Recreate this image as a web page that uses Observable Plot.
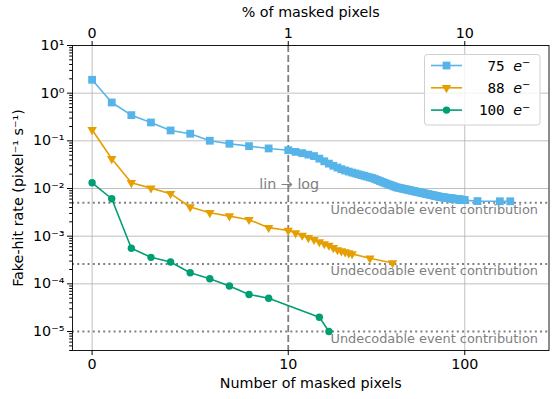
<!DOCTYPE html>
<html><head><meta charset="utf-8">
<script src="https://cdn.jsdelivr.net/npm/d3@7"></script>
<script src="https://cdn.jsdelivr.net/npm/@observablehq/plot@0.6"></script>
<style>
body{margin:0;background:#fff;}
#wrap{position:relative;width:556px;height:399px;}
</style></head><body><div id="wrap"></div>
<script>
// ---- data ----
const seriesNames = ["75", "88", "100"];
const seriesColors = ["#56B4E9", "#E69F00", "#009E73"];

const blueN = [0,1,2,3,4,5,6,7,8,9,10,11,12,13,14,15,16,17,18,19,20,21,22,23,24,25,26,27,28,29,30,
  31,32,33,34,35,36,37,38,39,40,41,42,43,44,45,46,47,48,49,50,51,52,53,54,55,56,57,58,59,60,
  61,62,63,64,65,66,67,68,69,70,71,72,73,74,75,76,77,78,79,80,81,82,83,84,85,86,87,88,89,90,
  91,92,93,94,95,96,97,98,99,100,118,158,181];
const blueRate = [1.91,0.638,0.346,0.243,0.165,0.141,0.1005,0.0869,0.0774,0.0693,0.0635,
  0.0587,0.0552,0.0513,0.0479,0.0423,0.0372,0.0333,0.0300,0.0275,0.0254,
  0.0239,0.0227,0.0216,0.0207,0.0199,0.0191,0.0184,0.0177,0.0171,0.0166,
  0.0158,0.0151,0.0144,0.0138,0.0132,0.0127,0.0122,0.0118,0.0114,0.0110,
  0.0106,0.0104,0.0102,0.0100,0.00984,0.00966,0.00951,0.00933,0.00918,0.00902,
  0.00887,0.00873,0.00861,0.00847,0.00836,0.00822,0.00811,0.00800,0.00789,0.00778,
  0.00767,0.00759,0.00748,0.00738,0.00729,0.00721,0.00711,0.00703,0.00695,0.00687,
  0.00679,0.00671,0.00664,0.00658,0.00655,0.00650,0.00646,0.00641,0.00638,0.00634,
  0.00630,0.00627,0.00622,0.00619,0.00615,0.00612,0.00608,0.00605,0.00601,0.00598,
  0.00596,0.00592,0.00589,0.00586,0.00582,0.00581,0.00578,0.00575,0.00573,0.00569,
  0.00545,0.00540,0.00540];

const orangeN = [0,1,2,3,4,5,6,7,8,9,10,11,12,13,14,15,16,17,18,19,20,21,22,23,29,39];
const orangeRate = [0.171,0.042,0.0132,0.0102,0.0078,0.0041,0.0031,0.00264,0.00222,0.00151,
  0.00132,0.00117,0.00104,0.00093,0.000845,0.00076,0.00069,0.00064,0.00057,0.000516,
  0.000487,0.000464,0.000442,0.000426,0.000343,0.000275];

const greenN = [0,1,2,3,4,5,6,7,8,9,15,17];
const greenRate = [0.0132,0.0061,0.00056,0.00036,0.000287,0.000171,0.000128,0.00009,0.00006,0.00005,0.00002,0.00001];

const undecodable = [5.0e-3, 2.6e-4, 1.0e-5];
const xTicks = [0, 10, 100];
const xTickLabels = ["0", "10", "100"];
const topTickLabels = ["0", "1", "10"];
const yTicks = [1e1, 1e0, 1e-1, 1e-2, 1e-3, 1e-4, 1e-5];
const yGrid = [1e0, 1e-1, 1e-2, 1e-3, 1e-4];
const xlim = [-1, 300];
const ylim = [4e-6, 10];
const linthresh = 10;

// matplotlib-style symlog (linthresh=10, linscale=1)
const LS = 1 / (1 - 1 / 10);
function sym(n) {
  const a = Math.abs(n);
  return a <= linthresh ? n / linthresh * LS : Math.sign(n) * (LS + Math.log10(a / linthresh));
}
const rows = (ns, rs) => ns.map((n, i) => ({x: sym(n), y: rs[i]}));
const blue = rows(blueN, blueRate), orange = rows(orangeN, orangeRate), green = rows(greenN, greenRate);

const supMap = {"-":"⁻","0":"⁰","1":"¹","2":"²","3":"³","4":"⁴","5":"⁵","6":"⁶","7":"⁷","8":"⁸","9":"⁹"};
const sup = s => String(s).split("").map(c => supMap[c]).join("");
const yFmt = d => "10" + sup(Math.round(Math.log10(d)));
const xPos = xTicks.map(sym);
const idx = d => xPos.findIndex(v => Math.abs(v - d) < 1e-9);

const minors = [];
for (let e = -6; e <= 0; e++) for (let k = 2; k <= 9; k++) {
  const v = k * Math.pow(10, e);
  if (v >= ylim[0] && v <= ylim[1]) minors.push(v);
}

const gray = "#808080";
const plot = Plot.plot({
  width: 556, height: 399,
  marginLeft: 72, marginRight: 7.5, marginTop: 45, marginBottom: 49,
  style: {fontFamily: "DejaVu Sans", fontSize: "14px", background: "white", color: "black", overflow: "visible"},
  x: {type: "linear", domain: [sym(xlim[0]), sym(xlim[1])]},
  y: {type: "log", domain: ylim},
  marks: [
    Plot.ruleY(yGrid, {stroke: "#b0b0b0", strokeWidth: 0.8}),
    Plot.ruleX([sym(0), sym(100)], {stroke: "#b0b0b0", strokeWidth: 0.8}),
    Plot.ruleY(undecodable, {stroke: gray, strokeWidth: 2, strokeDasharray: "2,3.2"}),
    Plot.ruleX([sym(linthresh)], {stroke: gray, strokeWidth: 1.8, strokeDasharray: "7,3"}),
    Plot.text(undecodable, {y: d => d, frameAnchor: "right", textAnchor: "end", lineAnchor: "top", dx: -11, dy: 2,
      text: () => "Undecodable event contribution", fill: gray, fontSize: 12.9}),
    Plot.text([0.0122], {x: () => sym(linthresh), y: d => d, text: () => "lin → log", fill: gray, fontSize: 14.3, dx: 1}),
    Plot.line(blue, {x: "x", y: "y", stroke: seriesColors[0], strokeWidth: 1.6}),
    Plot.line(orange, {x: "x", y: "y", stroke: seriesColors[1], strokeWidth: 1.6}),
    Plot.line(green, {x: "x", y: "y", stroke: seriesColors[2], strokeWidth: 1.6}),
    Plot.dot(blue, {x: "x", y: "y", symbol: "square", r: 4.4, fill: seriesColors[0]}),
    Plot.dot(orange, {x: "x", y: "y", symbol: "triangle", rotate: 180, r: 3.5, fill: seriesColors[1]}),
    Plot.dot(green, {x: "x", y: "y", symbol: "circle", r: 3.7, fill: seriesColors[2]}),
    Plot.frame({stroke: "black", strokeWidth: 0.9}),
    Plot.axisX({anchor: "bottom", ticks: xPos, tickFormat: d => xTickLabels[idx(d)], tickSize: 5, tickPadding: 3, label: null, fontSize: 14.3}),
    Plot.axisX({anchor: "top", ticks: xPos, tickFormat: d => topTickLabels[idx(d)], tickSize: 5, tickPadding: 3, label: null, fontSize: 14.3}),
    Plot.axisY({anchor: "left", ticks: yTicks, tickFormat: yFmt, tickSize: 5, tickPadding: 3, label: null, fontSize: 14.3}),
    Plot.axisY({anchor: "left", ticks: minors, tickFormat: () => "", tickSize: 2.8, label: null}),
    Plot.text(["Number of masked pixels"], {frameAnchor: "bottom", lineAnchor: "middle", textAnchor: "middle", dy: 33, text: d => d, fontSize: 14.3}),
    Plot.text(["% of masked pixels"], {frameAnchor: "top", lineAnchor: "middle", textAnchor: "middle", dy: -33, text: d => d, fontSize: 14.3}),
    Plot.text(["Fake-hit rate (pixel⁻¹ s⁻¹)"], {frameAnchor: "left", lineAnchor: "middle", textAnchor: "middle", dx: -54, rotate: -90, text: d => d, fontSize: 14.3})
  ]
});
document.getElementById("wrap").appendChild(plot);

// ---- legend ----
const svg = d3.select(plot);
const lg = svg.append("g");
lg.append("rect").attr("x", 424.5).attr("y", 54.5).attr("width", 115.5).attr("height", 70.5)
  .attr("rx", 3).attr("fill", "white").attr("fill-opacity", 0.8).attr("stroke", "#d0d0d0");
const sym2d = [d3.symbolSquare, d3.symbolTriangle, d3.symbolCircle];
const sizes = [Math.PI * 4.4 * 4.4, Math.PI * 3.5 * 3.5, Math.PI * 3.7 * 3.7];
seriesNames.forEach((name, i) => {
  const y = 65.5 + i * 22.3;
  lg.append("line").attr("x1", 431).attr("x2", 462).attr("y1", y).attr("y2", y)
    .attr("stroke", seriesColors[i]).attr("stroke-width", 1.6);
  lg.append("path").attr("d", d3.symbol(sym2d[i], sizes[i])())
    .attr("transform", `translate(446.5,${y})` + (i === 1 ? " rotate(180)" : ""))
    .attr("fill", seriesColors[i]);
  const t = lg.append("text").attr("x", 530.5).attr("y", y).attr("dy", "0.35em")
    .attr("text-anchor", "end").attr("font-size", 14.3).attr("fill", "black");
  t.append("tspan").attr("font-family", "DejaVu Sans Mono").text(name + " ");
  t.append("tspan").attr("font-family", "DejaVu Sans").attr("font-style", "italic").text("e");
  t.append("tspan").attr("font-family", "DejaVu Sans").attr("font-size", 10).attr("dy", "-0.45em").text("−");
});
</script>
</body></html>
